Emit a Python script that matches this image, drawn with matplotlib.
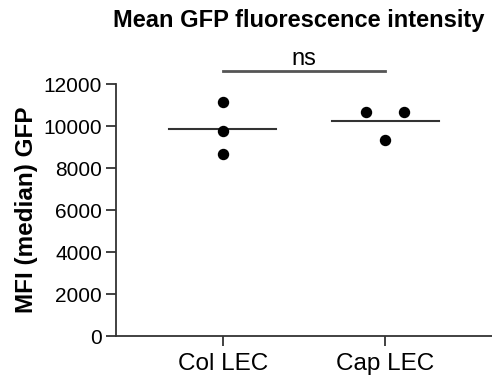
import matplotlib
matplotlib.use("Agg")
import matplotlib.pyplot as plt
import numpy as np

plt.rcParams['font.family'] = ['Liberation Sans', 'DejaVu Sans']

categories = ["Col LEC", "Cap LEC"]
col_values = [11150, 9780, 8650]
cap_values = [10680, 10680, 9330]
col_offsets = [0.0, 0.0, 0.0]
cap_offsets = [-0.12, 0.12, 0.0]
yticks = [0, 2000, 4000, 6000, 8000, 10000, 12000]
title = "Mean GFP fluorescence intensity"
ylabel = "MFI (median) GFP"
sig_label = "ns"
sig_level = 12600

fig = plt.figure(figsize=(4.92, 3.76), dpi=100)
ax = fig.add_axes([116/492, 1-336/376, 1-116/492, (336-84)/376])

groups = [col_values, cap_values]
offsets = [col_offsets, cap_offsets]
xpos = [1, 2]
for x, vals, offs in zip(xpos, groups, offsets):
    ax.plot(np.array(offs) + x, vals, 'o', color='black', markersize=7.2, clip_on=False, zorder=3)
    m = np.mean(vals)
    ax.plot([x - 0.33, x + 0.33], [m, m], color='#333333', lw=1.5, zorder=2)

ax.plot([xpos[0], xpos[1]], [sig_level, sig_level], color='#555555', lw=2, clip_on=False)
ax.text(np.mean(xpos), sig_level + 60, sig_label, ha='center', va='bottom', fontsize=17, clip_on=False)

ax.set_xlim(0.34, 2.66)
ax.set_ylim(0, 12000)
ax.set_xticks(xpos)
ax.set_xticklabels(categories, fontsize=17.5)
ax.set_yticks(yticks)
ax.set_yticklabels([str(t) for t in yticks], fontsize=15)
ax.spines['top'].set_visible(False)
ax.spines['right'].set_visible(False)
for s in ['left', 'bottom']:
    ax.spines[s].set_linewidth(1.3)
    ax.spines[s].set_color('#333333')
ax.tick_params(length=7, width=1.3, color='#333333', pad=3)
ax.tick_params(axis='x', pad=5)
ax.set_ylabel(ylabel, fontsize=17.5, fontweight='bold', labelpad=4)
fig.text(299/492, 1-21/376, title, ha='center', va='center', fontsize=17, fontweight='bold')

fig.savefig("out.png", dpi=100)
